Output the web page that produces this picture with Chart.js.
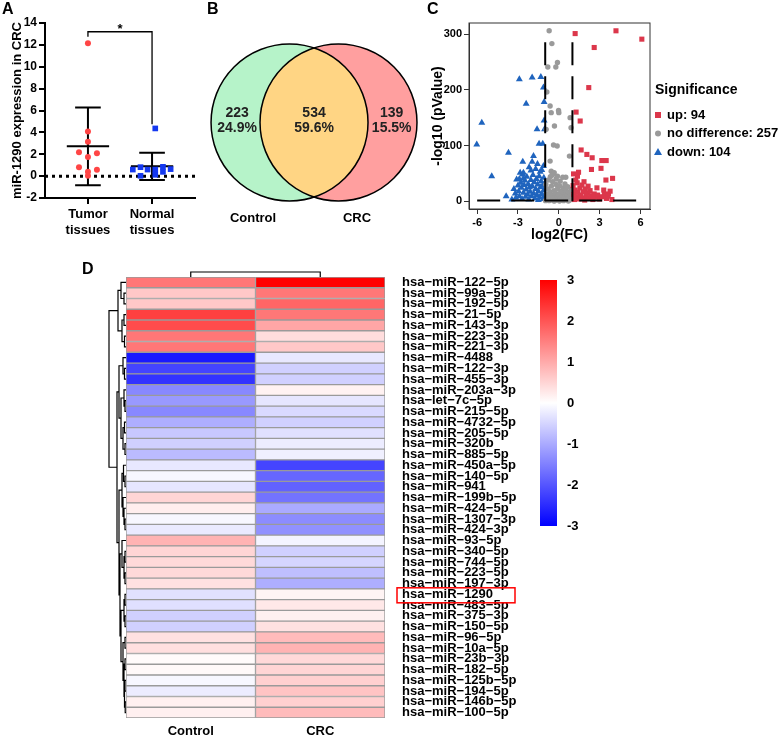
<!DOCTYPE html>
<html>
<head>
<meta charset="utf-8">
<script src="https://cdn.jsdelivr.net/npm/chart.js@4.4.1/dist/chart.umd.min.js"></script>
<style>
html, body { margin: 0; padding: 0; background: #fff; }
#wrap { position: relative; width: 778px; height: 737px; overflow: hidden; }
canvas { position: absolute; }
.lab { position: absolute; font: bold 16px/16px "Liberation Sans", Arial, sans-serif; color: #000; }
</style>
</head>
<body>
<div id="wrap">
  <canvas id="chartA" width="205" height="245" style="left:0;top:0"></canvas>
  <canvas id="chartB" width="220" height="245" style="left:205px;top:0"></canvas>
  <canvas id="chartC" width="353" height="245" style="left:425px;top:0"></canvas>
  <canvas id="chartD" width="440" height="477" style="left:85px;top:260px"></canvas>
  <canvas id="chartBar" width="70" height="270" style="left:530px;top:270px"></canvas>
  <div class="lab" style="left:2px;top:1px">A</div>
  <div class="lab" style="left:207px;top:1px">B</div>
  <div class="lab" style="left:427px;top:1px">C</div>
  <div class="lab" style="left:82px;top:261px">D</div>
</div>
<script>
// ---- panel A: miR-1290 expression ----
const tumorValues = [12.15, 4.09, 3.15, 2.18, 2.09, 1.76, 0.82, 0.58, 0.39, 0.03];
const tumorJitter = [0, 0, 0, -0.14, 0.14, 0, -0.14, 0.14, 0, 0];
const normalValues = [4.36, 0.60, 0.82, 0.60, 0.60, 0.85, 0.64, 0.03, 0.12, 0.39];
const normalJitter = [0.05, -0.3, -0.18, -0.07, 0.05, 0.17, 0.29, -0.18, 0.05, 0.17];
const groupLabels = [['Tumor', 'tissues'], ['Normal', 'tissues']];
const yTitleA = 'miR-1290 expression in CRC';

// ---- panel B: venn ----
const vennSets = ['Control', 'CRC'];
const vennCounts = [223, 534, 139]; // control only, both, CRC only

// ---- panel C: volcano ----
const sigNames = ['up', 'no difference', 'down'];
const sigCounts = [94, 257, 104];
const fcCut = 1;
const pCut = 1.3;
const volcanoXTicks = [-6, -3, 0, 3, 6];
const volcanoYTicks = [0, 100, 200, 300];
const upPoints = [
  [1.2, 301], [4.2, 306], [6.1, 291], [2.6, 276], [2.2, 204], [1.27, 160], [1.57, 144],
  [1.64, 92], [2.06, 84], [2.45, 78], [3.16, 73], [3.48, 73], [2.4, 57], [3.1, 59],
  [3.95, 41], [3.46, 38], [1.08, 49], [1.37, 45], [3.77, 18], [3.65, 13],
  [1.05, 28], [1.1, 12], [1.15, 3], [1.2, 20], [1.3, 8], [1.35, 33], [1.4, 16], [1.5, 4],
  [1.55, 24], [1.6, 11], [1.7, 29], [1.75, 6], [1.8, 17], [1.9, 2], [1.95, 22], [2.0, 9],
  [2.1, 14], [2.2, 5], [2.3, 19], [2.4, 10], [2.5, 3], [2.6, 13], [2.7, 7], [2.85, 11],
  [3.0, 4], [3.2, 8], [3.35, 12], [3.5, 5], [3.6, 9], [3.9, 3], [1.25, 38], [1.45, 52],
  [1.85, 35], [2.15, 27], [2.8, 24], [3.3, 20]
];
const noDiffPoints = [
  [-0.71, 306], [-0.51, 283], [-0.1, 249], [-0.22, 241], [-0.81, 241], [-0.88, 196],
  [-0.64, 171], [-0.56, 159], [-0.02, 163], [0, 159], [0.83, 150], [0.9, 132], [-0.32, 135],
  [-0.93, 129], [-0.39, 101], [-0.12, 99], [0.78, 81], [-0.64, 72], [-0.56, 54], [-0.34, 51],
  [-0.1, 45], [0.29, 43], [0.51, 43],
  [-0.95, 30], [-0.9, 12], [-0.85, 4], [-0.8, 22], [-0.75, 38], [-0.7, 8], [-0.65, 17],
  [-0.6, 2], [-0.55, 27], [-0.5, 11], [-0.45, 35], [-0.4, 5], [-0.35, 19], [-0.3, 1],
  [-0.25, 14], [-0.2, 30], [-0.15, 7], [-0.1, 22], [-0.05, 3], [0, 12], [0.05, 28], [0.1, 6],
  [0.15, 18], [0.2, 2], [0.25, 10], [0.3, 24], [0.35, 4], [0.4, 15], [0.45, 8], [0.5, 20],
  [0.55, 3], [0.6, 11], [0.65, 26], [0.7, 6], [0.75, 16], [0.8, 2], [0.85, 9], [0.9, 21],
  [0.95, 5], [-0.62, 44], [-0.48, 47], [-0.2, 40], [0.1, 36], [0.45, 31], [-0.98, 1],
  [-0.72, 1], [-0.35, 0.5], [0.05, 0.5], [0.35, 1], [0.7, 0.5]
];
const downPoints = [
  [-6.03, 102], [-5.66, 141], [-4.93, 45], [-3.87, 9], [-3.7, 87], [-2.9, 219], [-1.96, 222],
  [-1.32, 223], [-2.4, 175], [-1.13, 204], [-1.08, 178], [-1.08, 145], [-1.6, 129], [-1.05, 129],
  [-1.45, 103], [-1.18, 103], [-1.86, 81], [-2.65, 71], [-1.96, 71], [-1.57, 67], [-1.13, 63],
  [-2.18, 61], [-2.84, 51], [-2.6, 51], [-1.37, 53], [-3.1, 39], [-2.6, 41],
  [-3.3, 22], [-3.2, 14], [-3.15, 6], [-3.0, 28], [-2.95, 18], [-2.9, 9], [-2.8, 33],
  [-2.75, 24], [-2.7, 4], [-2.6, 15], [-2.55, 29], [-2.5, 37], [-2.45, 8], [-2.4, 21],
  [-2.35, 44], [-2.3, 12], [-2.25, 31], [-2.2, 3], [-2.15, 25], [-2.1, 17], [-2.05, 38],
  [-2.0, 9], [-1.95, 27], [-1.9, 47], [-1.85, 14], [-1.8, 34], [-1.75, 5], [-1.7, 22],
  [-1.65, 40], [-1.6, 11], [-1.55, 30], [-1.5, 18], [-1.45, 45], [-1.4, 7], [-1.35, 25],
  [-1.3, 36], [-1.25, 13], [-1.2, 28], [-1.15, 4], [-1.12, 19], [-1.1, 42], [-1.05, 10],
  [-1.02, 33], [-3.45, 3], [-2.65, 48], [-2.05, 55], [-1.7, 58], [-1.25, 56], [-1.5, 2], [-2.9, 40]
];

// ---- panel D: heatmap ----
const rowNames = [
  'hsa-miR-122-5p', 'hsa-miR-99a-5p', 'hsa-miR-192-5p', 'hsa-miR-21-5p', 'hsa-miR-143-3p',
  'hsa-miR-223-3p', 'hsa-miR-221-3p', 'hsa-miR-4488', 'hsa-miR-122-3p', 'hsa-miR-455-3p',
  'hsa-miR-203a-3p', 'hsa-let-7c-5p', 'hsa-miR-215-5p', 'hsa-miR-4732-5p', 'hsa-miR-205-5p',
  'hsa-miR-320b', 'hsa-miR-885-5p', 'hsa-miR-450a-5p', 'hsa-miR-140-5p', 'hsa-miR-941',
  'hsa-miR-199b-5p', 'hsa-miR-424-5p', 'hsa-miR-1307-3p', 'hsa-miR-424-3p', 'hsa-miR-93-5p',
  'hsa-miR-340-5p', 'hsa-miR-744-5p', 'hsa-miR-223-5p', 'hsa-miR-197-3p', 'hsa-miR-1290',
  'hsa-miR-483-5p', 'hsa-miR-375-3p', 'hsa-miR-150-5p', 'hsa-miR-96-5p', 'hsa-miR-10a-5p',
  'hsa-miR-23b-3p', 'hsa-miR-182-5p', 'hsa-miR-125b-5p', 'hsa-miR-194-5p', 'hsa-miR-146b-5p',
  'hsa-miR-100-5p'
];
const heatCols = ['Control', 'CRC'];
const controlZ = [
  1.6, 0.65, 0.65, 2.25, 2.1, 1.6, 1.6, -2.7, -2.2, -2.4,
  -1.4, -1.2, -1.4, -0.95, -0.65, -0.55, -0.8, -0.27, -0.1, -0.3,
  0.5, 0.2, -0.1, -0.25, 0.9, 0.5, 0.45, 0.45, 0.35, -0.35,
  -0.37, -0.55, -0.55, 0.35, 0.38, 0.05, 0.07, -0.1, -0.22, 0.18, 0.18
];
const crcZ = [
  3.0, 1.6, 1.8, 1.6, 1.05, 0.4, 0.65, -0.27, -0.55, -0.55,
  0.15, -0.3, -0.45, -0.55, -0.37, -0.22, -0.18, -2.2, -1.8, -1.85,
  -1.65, -1.0, -1.35, -1.3, -0.13, -0.55, -0.5, -0.75, -0.95, 0.13,
  0.27, 0.18, 0.35, 0.8, 0.9, 0.45, 0.5, 0.55, 0.7, 0.55, 0.8
];
const highlightRow = 'hsa-miR-1290';
const colorMin = -3, colorMax = 3;
// dendrograms: [height, left, right], leaves are row / column indexes
const rowTree = [17,
  [8, [5, 0, [2, 1, 2]], [4, [2, 3, 4], [1.5, 5, 6]]],
  [9,
    [7, [3, 7, [1.5, 8, 9]], [5, [2, 10, [1, 11, 12]], [3, [1.5, 13, 14], [1, 15, 16]]]],
    [7,
      [4, [2.5, 17, [1, 18, 19]], [3, 20, [2, 21, [1, 22, 23]]]],
      [6, [4, 24, [2, [1, 25, 26], [1, 27, 28]]],
        [5, [2, [1, 29, 30], [1, 31, 32]], [3, [1, 33, 34], [2, [1, 35, 36], [1.5, [1, 37, 38], [0.8, 39, 40]]]]]]
    ]
  ]
];
const colTree = [5, 0, 1];

const FONT = '"Liberation Sans", Arial, sans-serif';
Chart.defaults.font.family = FONT;
Chart.defaults.font.size = 13;
Chart.defaults.font.weight = 'bold';
Chart.defaults.color = '#000';
Chart.defaults.animation = false;
Chart.defaults.plugins.legend.display = false;
Chart.defaults.plugins.tooltip.enabled = false;

function meanSd(v) {
  const m = v.reduce((a, b) => a + b, 0) / v.length;
  const sd = Math.sqrt(v.reduce((a, b) => a + (b - m) ** 2, 0) / (v.length - 1));
  return [m, sd];
}

function errLines(vals, c) {
  const [m, sd] = meanSd(vals);
  return [
    { x: c - 0.33, y: m }, { x: c + 0.33, y: m }, { x: c, y: null },
    { x: c - 0.2, y: m + sd }, { x: c + 0.2, y: m + sd }, { x: c, y: null },
    { x: c - 0.2, y: m - sd }, { x: c + 0.2, y: m - sd }, { x: c, y: null },
    { x: c, y: m - sd }, { x: c, y: m + sd }
  ];
}

const lineDs = (data, extra) => Object.assign({
  data, showLine: true, pointRadius: 0, borderColor: '#000', borderWidth: 2, spanGaps: false
}, extra);

// invisible tick marks, used only to push labels away from the plot
const spacerGrid = len => ({ display: true, drawOnChartArea: false, drawTicks: true, tickLength: len, color: 'rgba(0,0,0,0)' });

// ---------- A ----------
const starPlugin = {
  id: 'star',
  afterDatasetsDraw(chart) {
    const { ctx, scales: { x, y } } = chart;
    ctx.save();
    ctx.fillStyle = '#000';
    ctx.font = 'bold 13px ' + FONT;
    ctx.textAlign = 'center';
    ctx.textBaseline = 'middle';
    ctx.fillText('*', x.getPixelForValue(1.5), y.getPixelForValue(13.6) + 2);
    ctx.restore();
  }
};

new Chart(document.getElementById('chartA'), {
  type: 'scatter',
  data: {
    datasets: [
      { data: tumorValues.map((v, i) => ({ x: 1 + tumorJitter[i], y: v })), pointStyle: 'circle', pointRadius: 3, backgroundColor: '#ff4545', borderWidth: 0 },
      { data: normalValues.map((v, i) => ({ x: 2 + normalJitter[i], y: v })), pointStyle: 'rect', pointRadius: 4, backgroundColor: '#1438f0', borderWidth: 0 },
      lineDs([...errLines(tumorValues, 1), { x: 1.5, y: null }, ...errLines(normalValues, 2)]),
      lineDs([{ x: 0.33, y: 0 }, { x: 2.67, y: 0 }], { borderWidth: 3, borderDash: [3, 4] }),
      lineDs([{ x: 1, y: 12.75 }, { x: 1, y: 13.2 }, { x: 2, y: 13.2 }, { x: 2, y: 4.75 }], { borderWidth: 1.3 })
    ]
  },
  options: {
    responsive: false,
    layout: { padding: { top: 23, right: 10, left: 0, bottom: 0 } },
    scales: {
      x: {
        type: 'linear', min: 0.33, max: 2.67,
        afterBuildTicks: s => { s.ticks = [{ value: 1 }, { value: 2 }]; },
        ticks: { callback: v => groupLabels[v - 1], padding: 3 },
        grid: { display: true, drawOnChartArea: false, tickLength: 6, lineWidth: 2, color: '#000' },
        border: { display: true, width: 2, color: '#000' },
        afterFit: s => { s.height = 47; }
      },
      y: {
        min: -2, max: 14,
        ticks: { stepSize: 2, padding: 2, font: { size: 12, weight: 'bold' } },
        grid: { display: true, drawOnChartArea: false, tickLength: 6, lineWidth: 2, color: '#000' },
        border: { display: true, width: 2, color: '#000' },
        title: { display: true, text: yTitleA, font: { size: 13, weight: 'bold' }, padding: { top: 10, bottom: 0 } },
        afterFit: s => { s.width = 45; }
      }
    }
  },
  plugins: [starPlugin]
});

// ---------- B ----------
const vennRadius = 1, vennOffset = 0.312;
const vennPlugin = {
  id: 'venn',
  afterDatasetsDraw(chart) {
    const { ctx, scales: { x, y } } = chart;
    const r = x.getPixelForValue(vennRadius) - x.getPixelForValue(0);
    const cx1 = x.getPixelForValue(-vennOffset), cx2 = x.getPixelForValue(vennOffset);
    const cy = y.getPixelForValue(0);
    const circle = cx => { ctx.beginPath(); ctx.arc(cx, cy, r, 0, Math.PI * 2); };
    ctx.save();
    circle(cx1); ctx.fillStyle = '#b6f3c9'; ctx.fill();
    circle(cx2); ctx.fillStyle = '#ff9f9f'; ctx.fill();
    ctx.save();
    circle(cx1); ctx.clip();
    circle(cx2); ctx.fillStyle = '#ffd584'; ctx.fill();
    ctx.restore();
    ctx.lineWidth = 1.5; ctx.strokeStyle = '#000';
    circle(cx1); ctx.stroke();
    circle(cx2); ctx.stroke();

    const total = vennCounts.reduce((a, b) => a + b, 0);
    const spots = [-0.98, 0, 0.99];
    ctx.fillStyle = '#222';
    ctx.font = 'bold 14px ' + FONT;
    ctx.textAlign = 'center';
    ctx.textBaseline = 'middle';
    vennCounts.forEach((c, i) => {
      const px = x.getPixelForValue(spots[i]);
      ctx.fillText(String(c), px, y.getPixelForValue(0.12));
      ctx.fillText((c / total * 100).toFixed(1) + '%', px, y.getPixelForValue(-0.075));
    });
    ctx.fillStyle = '#000';
    ctx.font = 'bold 13px ' + FONT;
    [-0.777, 0.548].forEach((sx, i) => ctx.fillText(vennSets[i], x.getPixelForValue(sx), y.getPixelForValue(-1.217)));
    ctx.restore();
  }
};

new Chart(document.getElementById('chartB'), {
  type: 'scatter',
  data: { datasets: [{ data: [{ x: -vennOffset, y: 0 }, { x: vennOffset, y: 0 }], pointRadius: 0 }] },
  options: {
    responsive: false,
    layout: { padding: 0 },
    scales: {
      x: { display: false, min: -1.389, max: 1.414 },
      y: { display: false, min: -1.561, max: 1.561 }
    }
  },
  plugins: [vennPlugin]
});

// ---------- C ----------
const sigColors = ['#dc374b', '#9a9a9a', '#1f64be'];
const sigStyles = ['rect', 'circle', 'triangle'];
const legendPlugin = {
  id: 'sigLegend',
  afterDraw(chart) {
    const { ctx, chartArea } = chart;
    const x0 = chartArea.right + 5;
    const mid = (chartArea.top + chartArea.bottom) / 2;
    ctx.save();
    // full frame round the plot
    ctx.strokeStyle = '#333'; ctx.lineWidth = 1;
    ctx.strokeRect(chartArea.left, chartArea.top, chartArea.right - chartArea.left, chartArea.bottom - chartArea.top);
    ctx.fillStyle = '#000';
    ctx.textAlign = 'left';
    ctx.textBaseline = 'middle';
    ctx.font = 'bold 14px ' + FONT;
    ctx.fillText('Significance', x0, mid - 26);
    ctx.font = 'bold 13px ' + FONT;
    sigNames.forEach((n, i) => {
      const y = mid - 1 + i * 18.5;
      const mx = x0 + 3;
      ctx.fillStyle = sigColors[i];
      ctx.beginPath();
      if (sigStyles[i] === 'rect') ctx.rect(mx - 3, y - 3, 6, 6);
      else if (sigStyles[i] === 'circle') ctx.arc(mx, y, 3, 0, Math.PI * 2);
      else { ctx.moveTo(mx, y - 4); ctx.lineTo(mx + 4, y + 3); ctx.lineTo(mx - 4, y + 3); ctx.closePath(); }
      ctx.fill();
      ctx.fillStyle = '#000';
      ctx.fillText(n + ': ' + sigCounts[i], x0 + 12, y);
    });
    ctx.restore();
  }
};

const toXY = p => ({ x: p[0], y: p[1] });
const dash = { borderWidth: 2, borderDash: [23, 11] };
new Chart(document.getElementById('chartC'), {
  type: 'scatter',
  data: {
    datasets: [
      lineDs([{ x: -6, y: pCut }, { x: 6, y: pCut }], dash),
      lineDs([{ x: -fcCut, y: 0 }, { x: -fcCut, y: 296 }], dash),
      lineDs([{ x: fcCut, y: 0 }, { x: fcCut, y: 296 }], dash),
      { label: sigNames[0], data: upPoints.map(toXY), pointStyle: sigStyles[0], pointRadius: 3.6, backgroundColor: sigColors[0], borderWidth: 0 },
      { label: sigNames[1], data: noDiffPoints.map(toXY), pointStyle: sigStyles[1], pointRadius: 2.7, backgroundColor: sigColors[1], borderWidth: 0 },
      { label: sigNames[2], data: downPoints.map(toXY), pointStyle: sigStyles[2], pointRadius: 4, backgroundColor: sigColors[2], borderWidth: 0 }
    ]
  },
  options: {
    responsive: false,
    layout: { padding: { top: 23, right: 128, left: 0, bottom: 0 } },
    scales: {
      x: {
        type: 'linear', min: -6.6, max: 6.7,
        afterBuildTicks: s => { s.ticks = volcanoXTicks.map(v => ({ value: v })); },
        ticks: { padding: 2, font: { size: 11, weight: 'bold' } },
        grid: { display: true, drawOnChartArea: false, tickLength: 5, color: '#333' },
        border: { display: true, color: '#333', width: 1 },
        title: { display: true, text: 'log2(FC)', font: { size: 14, weight: 'bold' }, padding: { top: 0, bottom: 1 } },
        afterFit: s => { s.height = 36; }
      },
      y: {
        min: -14, max: 320,
        afterBuildTicks: s => { s.ticks = volcanoYTicks.map(v => ({ value: v })); },
        ticks: { padding: 2, font: { size: 11, weight: 'bold' } },
        grid: { display: true, drawOnChartArea: false, tickLength: 5, color: '#333' },
        border: { display: true, color: '#333', width: 1 },
        title: { display: true, text: '-log10 (pValue)', font: { size: 14, weight: 'bold' }, padding: { top: 5, bottom: 0 } },
        afterFit: s => { s.width = 44; }
      }
    }
  },
  plugins: [legendPlugin]
});

// ---------- D ----------
function heatColor(v) {
  const t = Math.min(Math.abs(v) / colorMax, 1);
  const c = Math.round(255 * (1 - t));
  return v >= 0 ? `rgb(255,${c},${c})` : `rgb(${c},${c},255)`;
}

function walk(node, leafPos, link) {
  if (typeof node === 'number') return { p: leafPos(node), h: 0 };
  const [h, a, b] = node;
  const A = walk(a, leafPos, link), B = walk(b, leafPos, link);
  link(A, B, h);
  return { p: (A.p + B.p) / 2, h };
}

const rowLabels = rowNames.map(s => s.replace(/-/g, '\u2212'));
const treePlugin = {
  id: 'trees',
  afterDraw(chart) {
    const { ctx, chartArea, scales: { x, y } } = chart;
    const L = chartArea.left, T = chartArea.top;
    ctx.save();
    ctx.strokeStyle = '#000';
    ctx.lineWidth = 1.2;
    ctx.beginPath();
    walk(rowTree, i => y.getPixelForValue(i), (A, B, h) => {
      ctx.moveTo(L - A.h, A.p); ctx.lineTo(L - h, A.p); ctx.lineTo(L - h, B.p); ctx.lineTo(L - B.h, B.p);
    });
    walk(colTree, i => x.getPixelForValue(i + 0.5), (A, B, h) => {
      ctx.moveTo(A.p, T - A.h); ctx.lineTo(A.p, T - h); ctx.lineTo(B.p, T - h); ctx.lineTo(B.p, T - B.h);
    });
    ctx.stroke();
    // box round the highlighted row label
    const idx = rowNames.indexOf(highlightRow);
    const cy = y.getPixelForValue(idx);
    ctx.strokeStyle = '#ff0000';
    ctx.lineWidth = 1.5;
    ctx.strokeRect(chartArea.right + 12, cy - 6.5, 118, 15);
    ctx.restore();
  }
};

new Chart(document.getElementById('chartD'), {
  type: 'bar',
  data: {
    labels: rowLabels,
    datasets: [
      { label: heatCols[0], data: rowLabels.map(() => [0, 1]), backgroundColor: controlZ.map(heatColor) },
      { label: heatCols[1], data: rowLabels.map(() => [1, 2]), backgroundColor: crcZ.map(heatColor) }
    ]
  },
  options: {
    responsive: false,
    indexAxis: 'y',
    datasets: {
      bar: { grouped: false, barPercentage: 1, categoryPercentage: 1, borderWidth: 1, borderColor: '#9a9a9a', borderSkipped: false }
    },
    layout: { padding: { left: 41, top: 17, right: 0, bottom: 0 } },
    scales: {
      x: {
        type: 'linear', min: 0, max: 2,
        afterBuildTicks: s => { s.ticks = [{ value: 0.5 }, { value: 1.5 }]; },
        ticks: { callback: v => heatCols[Math.floor(v)], padding: 6 },
        grid: { display: false, drawTicks: false },
        border: { display: false },
        afterFit: s => { s.height = 19; }
      },
      y: {
        type: 'category', position: 'right',
        ticks: { autoSkip: false, padding: 2, font: { size: 13, weight: 'bold' } },
        grid: spacerGrid(15),
        border: { display: false },
        afterFit: s => { s.width = 140; }
      }
    }
  },
  plugins: [treePlugin]
});

// colour key
function keyGradient(chart) {
  const { ctx, chartArea, scales } = chart;
  if (!chartArea) return null;
  const y = scales.y;
  const g = ctx.createLinearGradient(0, y.getPixelForValue(colorMin), 0, y.getPixelForValue(colorMax));
  g.addColorStop(0, heatColor(colorMin));
  g.addColorStop(0.5, heatColor(0));
  g.addColorStop(1, heatColor(colorMax));
  return g;
}

new Chart(document.getElementById('chartBar'), {
  type: 'bar',
  data: {
    labels: [''],
    datasets: [{ data: [[colorMin, colorMax]], backgroundColor: c => keyGradient(c.chart), borderWidth: 0, barPercentage: 1, categoryPercentage: 1 }]
  },
  options: {
    responsive: false,
    layout: { padding: { left: 10, top: 10, bottom: 14, right: 0 } },
    scales: {
      x: { display: false },
      y: {
        position: 'right', min: colorMin, max: colorMax,
        ticks: { stepSize: 1, padding: 2 },
        grid: spacerGrid(8),
        border: { display: false },
        afterFit: s => { s.width = 43; }
      }
    }
  }
});
</script>
</body>
</html>
